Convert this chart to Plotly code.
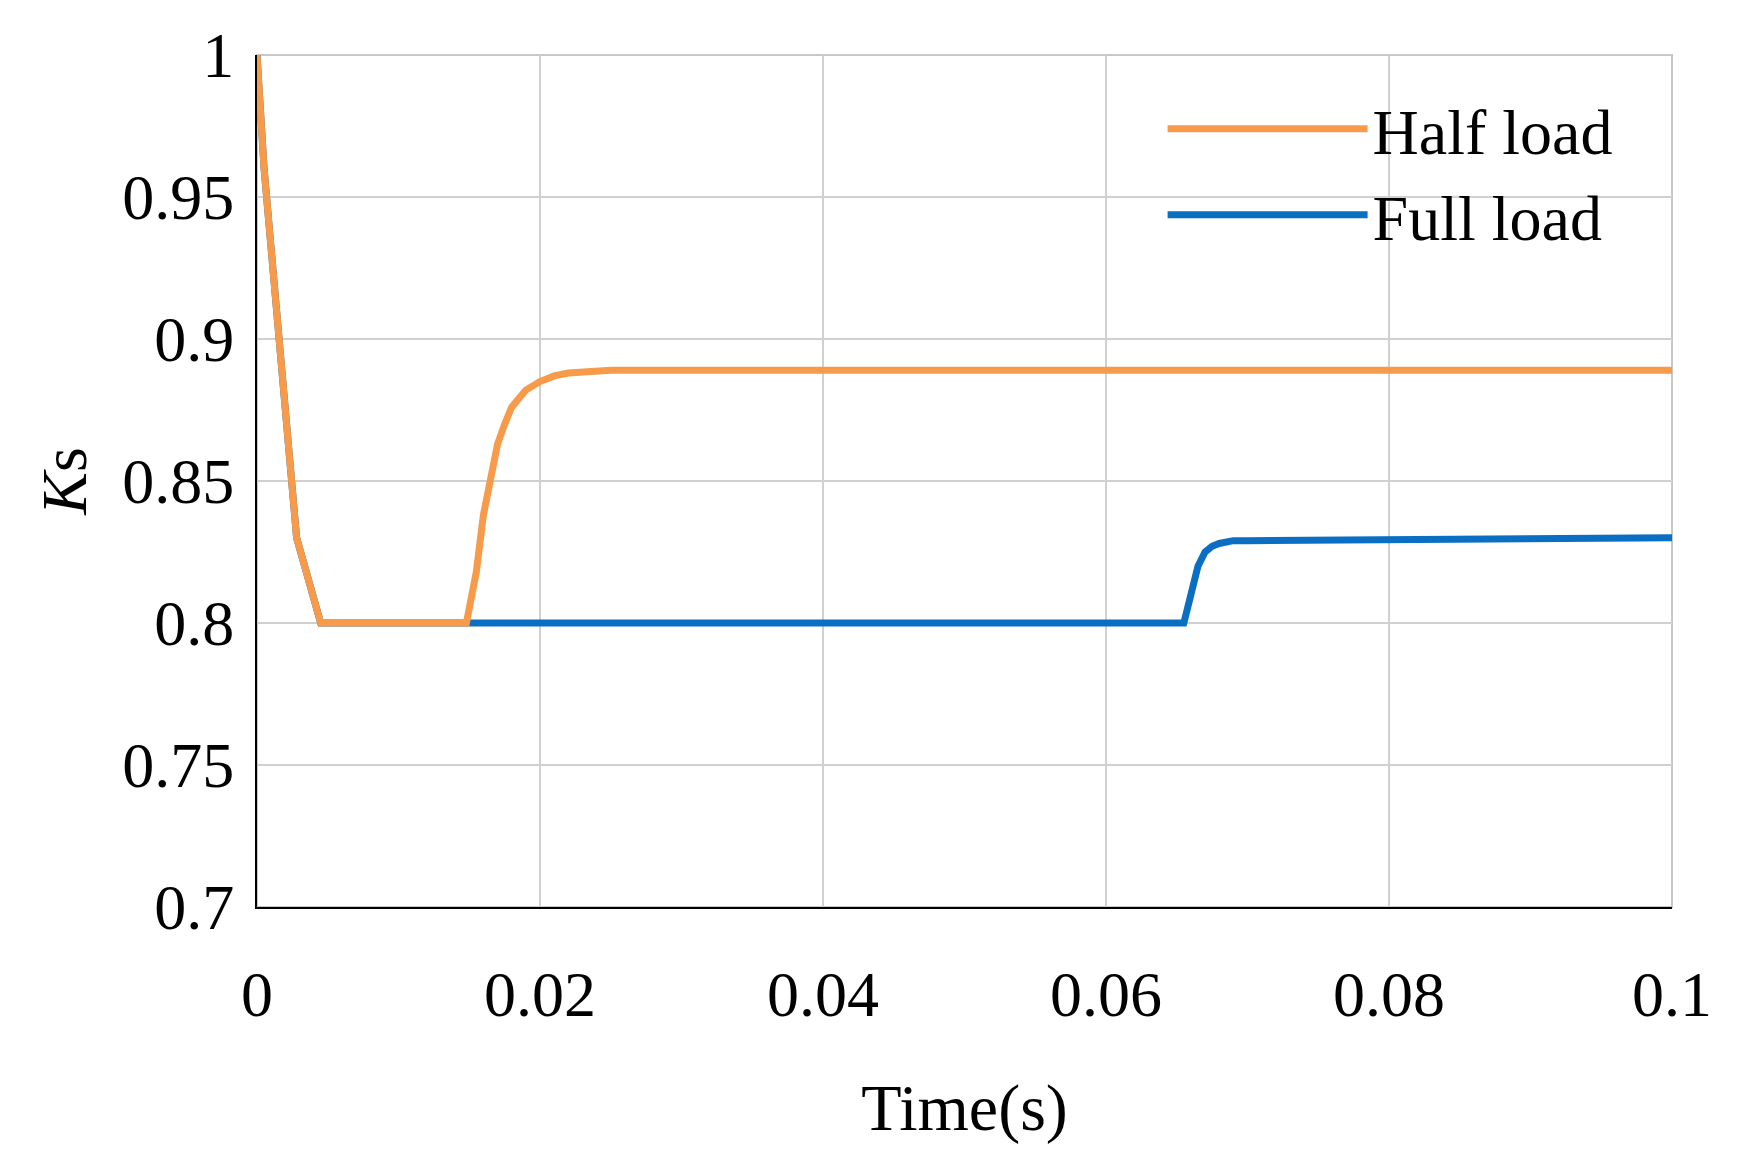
import plotly.graph_objects as go

half_t = [0, 0.0005, 0.0028, 0.0045, 0.0148, 0.0155, 0.016, 0.0165, 0.017, 0.0175, 0.018, 0.019, 0.020, 0.021, 0.022, 0.025, 0.1]
half_k = [1.0, 0.96, 0.83, 0.80, 0.80, 0.818, 0.838, 0.852, 0.863, 0.870, 0.876, 0.882, 0.885, 0.887, 0.888, 0.889, 0.889]
full_t = [0, 0.0005, 0.0028, 0.0045, 0.0655, 0.066, 0.0665, 0.067, 0.0675, 0.068, 0.069, 0.070, 0.1]
full_k = [1.0, 0.96, 0.83, 0.80, 0.80, 0.81, 0.820, 0.825, 0.827, 0.828, 0.829, 0.829, 0.830]

xticks = [0, 0.02, 0.04, 0.06, 0.08, 0.1]
xlabels = ["0", "0.02", "0.04", "0.06", "0.08", "0.1"]
yticks = [0.7, 0.75, 0.8, 0.85, 0.9, 0.95, 1]
ylabels = ["0.7", "0.75", "0.8", "0.85", "0.9", "0.95", "1"]

fig = go.Figure()
fig.add_trace(go.Scatter(x=full_t, y=full_k, mode="lines", name="Full load",
                         line=dict(color="#0A6FC2", width=7)))
fig.add_trace(go.Scatter(x=half_t, y=half_k, mode="lines", name="Half load",
                         line=dict(color="#F79A4A", width=7)))

font = dict(family="Liberation Serif, Times New Roman, serif", size=64, color="black")
fig.update_layout(
    width=1738, height=1151, paper_bgcolor="white", plot_bgcolor="white",
    margin=dict(l=249, r=74, t=45, b=252),
    font=font, showlegend=True,
    legend=dict(x=0.64, y=0.97, xanchor="left", yanchor="top", traceorder="reversed",
                bgcolor="rgba(0,0,0,0)", font=dict(size=64), itemwidth=200,
                tracegroupgap=0),
)
fig.update_xaxes(range=[0, 0.1], tickvals=xticks, ticktext=xlabels,
                 showgrid=True, gridcolor="#D0D0D0", gridwidth=2,
                 showline=True, linecolor="black", linewidth=2, mirror=False,
                 title=dict(text="Time(s)", font=dict(size=66), standoff=55),
                 ticks="outside", ticklen=30, tickcolor="rgba(0,0,0,0)", zeroline=False)
fig.update_yaxes(range=[0.7, 1.0], tickvals=yticks, ticktext=ylabels,
                 showgrid=True, gridcolor="#D0D0D0", gridwidth=2,
                 showline=True, linecolor="black", linewidth=2,
                 title=dict(text="<i>K</i>s", font=dict(size=64), standoff=15),
                 ticks="outside", ticklen=8, tickcolor="rgba(0,0,0,0)", zeroline=False)
fig.add_shape(type="rect", xref="paper", yref="paper", x0=0, y0=0, x1=1, y1=1,
              line=dict(color="#C8C8C8", width=2), layer="below")
fig.write_html("out.html")
